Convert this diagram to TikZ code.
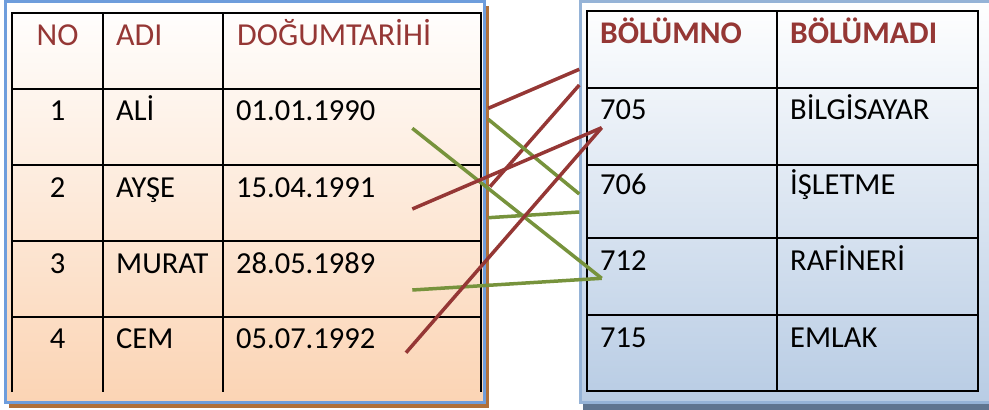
\documentclass[tikz,border=0pt]{standalone}
\usepackage{fontspec}
\setmainfont{Carlito}
\definecolor{hdrred}{HTML}{953735}
\definecolor{lnred}{HTML}{953735}
\definecolor{lngreen}{HTML}{77933C}
\definecolor{lblue}{HTML}{6E9DDC}
\definecolor{rblue}{HTML}{95B3D7}
\definecolor{lshadow}{HTML}{B0703A}
\definecolor{rshadow}{HTML}{5F7590}
\definecolor{peach}{HTML}{FBD4B4}
\definecolor{paleblue}{HTML}{B8CCE4}
\tikzset{
  txt/.style={inner sep=0pt, anchor=base west, font=\fontsize{30.5}{36}\selectfont},
  ctxt/.style={inner sep=0pt, anchor=base, font=\fontsize{30.5}{36}\selectfont},
  hdr/.style={txt, text=hdrred, font=\fontsize{32}{38}\selectfont},
  chdr/.style={ctxt, text=hdrred, font=\fontsize{32}{38}\selectfont},
  bhdr/.style={txt, text=hdrred, font=\fontsize{31.5}{38}\selectfont\bfseries},
  grid/.style={line width=2pt, black},
  conred/.style={line width=3.5pt, lnred},
  congreen/.style={line width=3.5pt, lngreen},
}
\begin{document}
\begin{tikzpicture}[x=1pt,y=-1pt]
\useasboundingbox (0,0) rectangle (989,410);
\clip (0,0) rectangle (989,410);
% left panel
\fill[lshadow] (9,6) rectangle (489,408);
\path[top color=white, bottom color=peach] (5.5,1.5) rectangle (484.5,402);
\draw[lblue, line width=3pt] (5.5,1.5) rectangle (484.5,402);
% left table
\draw[grid] (12,392) -- (12,13) -- (481,13) -- (481,392);
\foreach \yy in {89,165,241,317} \draw[grid] (12,\yy) -- (481,\yy);
\foreach \xx in {103,223} \draw[grid] (\xx,13) -- (\xx,392);
\node[chdr] (hno) at (57.5,45) {NO};
\node[hdr] (hadi) at (116,45) {ADI};
\node[hdr] (hdt) at (237,45) {DOĞUMTARİHİ};
\node[ctxt] (n1) at (57.5,120) {1};
\node[ctxt] (n2) at (57.5,197) {2};
\node[ctxt] (n3) at (57.5,273) {3};
\node[ctxt] (n4) at (57.5,348) {4};
\node[txt] (a1) at (116,120) {ALİ};
\node[txt] (a2) at (116,197) {AYŞE};
\node[txt] (a3) at (116,273) {MURAT};
\node[txt] (a4) at (116,348) {CEM};
\node[txt] (d1) at (236,120) {01.01.1990};
\node[txt] (d2) at (236,197) {15.04.1991};
\node[txt] (d3) at (236,273) {28.05.1989};
\node[txt] (d4) at (236,348) {05.07.1992};
% right panel
\fill[rshadow] (583,7) rectangle (1000,412);
\path[top color=white, bottom color=paleblue] (580.5,1) rectangle (1000,402.5);
\draw[rblue, line width=3.5pt] (580.5,1) rectangle (1000,402.5);
% right table
\draw[grid] (586.7,11) rectangle (977.7,391);
\foreach \yy in {87.7,164.7,238,314.7} \draw[grid] (586.7,\yy) -- (977.7,\yy);
\draw[grid] (776.7,11) -- (776.7,391);
\node[bhdr] (hbno) at (600,43) {BÖLÜMNO};
\node[bhdr] (hbad) at (790,43) {BÖLÜMADI};
\node[txt] (b1) at (600,119) {705};
\node[txt] (b2) at (600,194) {706};
\node[txt] (b3) at (600,270) {712};
\node[txt] (b4) at (600,347) {715};
\node[txt] (m1) at (790,119) {BİLGİSAYAR};
\node[txt] (m2) at (790,194) {İŞLETME};
\node[txt] (m3) at (790,270) {RAFİNERİ};
\node[txt] (m4) at (790,347) {EMLAK};
% connector end points
\coordinate (p1a) at (488.3,108.3); \coordinate (p1b) at (579.3,69.3);
\coordinate (p2a) at (490,186.7);   \coordinate (p2b) at (579.3,85);
\coordinate (p3a) at (412.3,209);   \coordinate (p3b) at (601.7,127.7);
\coordinate (p4a) at (406,352.7);   \coordinate (p4b) at (601.7,127.7);
\coordinate (p5a) at (412.3,128.3); \coordinate (p5b) at (601.7,278.3);
\coordinate (p6a) at (488.3,119.3); \coordinate (p6b) at (579.3,194);
\coordinate (p7a) at (488.3,217.7); \coordinate (p7b) at (579.3,212);
\coordinate (p8a) at (412.3,290);   \coordinate (p8b) at (601.7,278.3);
% connectors in the gap
\draw[conred] (p1a) -- (p1b);
\draw[conred] (p2a) -- (p2b);
\draw[congreen] (p6a) -- (p6b);
\draw[congreen] (p7a) -- (p7b);
% connectors on top
\draw[congreen] (p5a) -- (p5b);
\draw[congreen] (p8a) -- (p8b);
\draw[conred] (p3a) -- (p3b);
\draw[conred] (p4a) -- (p4b);
\end{tikzpicture}
\end{document}
